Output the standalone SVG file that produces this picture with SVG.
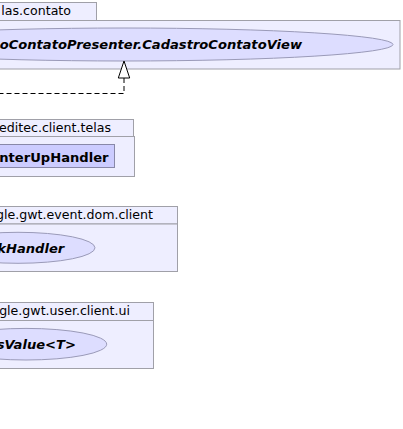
<svg xmlns="http://www.w3.org/2000/svg" width="403" height="429" viewBox="0 0 403 429">
<style>
.pkg{fill:#EEEEFF;stroke:#A0A0A8;stroke-width:1}
.ptxt{font-family:"DejaVu Sans",sans-serif;font-size:12.6px;fill:#000;text-anchor:end}
.ell{fill:#DDDDFF;stroke:#9A9AB8;stroke-width:1}
.cls{fill:#CCCCFF;stroke:#8888A8;stroke-width:1}
.ctxt{font-family:"DejaVu Sans",sans-serif;font-size:13.1px;font-weight:bold;fill:#000;text-anchor:end}
.it{font-style:italic}
.edge{fill:none;stroke:#000;stroke-width:1;stroke-dasharray:5,3}
.head{fill:#FFF;stroke:#000;stroke-width:1}
</style>
<rect width="403" height="429" fill="#FFFFFF"/>
<g id="pkg-telas-contato">
<rect class="pkg" x="-20" y="2.5" width="116.5" height="18"/>
<rect class="pkg" x="-20" y="20.5" width="420" height="48.5"/>
<text class="ptxt" x="71" y="15">las.contato</text>
</g>
<g id="node-CadastroContatoView">
<ellipse class="ell" cx="124" cy="44.5" rx="269" ry="16.5"/>
<text class="ctxt it" x="302" y="49">oContatoPresenter.CadastroContatoView</text>
</g>
<g id="pkg-client-telas">
<rect class="pkg" x="-20" y="119.5" width="153.5" height="17"/>
<rect class="pkg" x="-20" y="136.5" width="154.5" height="40"/>
<text class="ptxt" x="111" y="132">editec.client.telas</text>
</g>
<g id="node-EnterUpHandler">
<rect class="cls" x="-10" y="144.5" width="124.5" height="23"/>
<text class="ctxt" x="108.5" y="161.5">nterUpHandler</text>
</g>
<g id="pkg-gwt-event-dom-client">
<rect class="pkg" x="-20" y="206.5" width="197.5" height="17.5"/>
<rect class="pkg" x="-20" y="224" width="197.5" height="47.5"/>
<text class="ptxt" x="153" y="219">gle.gwt.event.dom.client</text>
</g>
<g id="node-ClickHandler">
<ellipse class="ell" cx="18" cy="247.8" rx="77" ry="15.5"/>
<text class="ctxt it" x="64.3" y="253">kHandler</text>
</g>
<g id="pkg-gwt-user-client-ui">
<rect class="pkg" x="-20" y="302.5" width="173.5" height="18"/>
<rect class="pkg" x="-20" y="320.5" width="173.5" height="48"/>
<text class="ptxt" x="130" y="315">gle.gwt.user.client.ui</text>
</g>
<g id="node-HasValue">
<ellipse class="ell" cx="26" cy="344.2" rx="80.7" ry="15.8"/>
<text class="ctxt it" x="76" y="349">sValue&lt;T&gt;</text>
</g>
<g id="connectors">
<path class="edge" d="M124,78 L124,93.5 L-5,93.5"/>
<polygon class="head" points="124,61 118.3,78 129.7,78"/>
</g>
</svg>
